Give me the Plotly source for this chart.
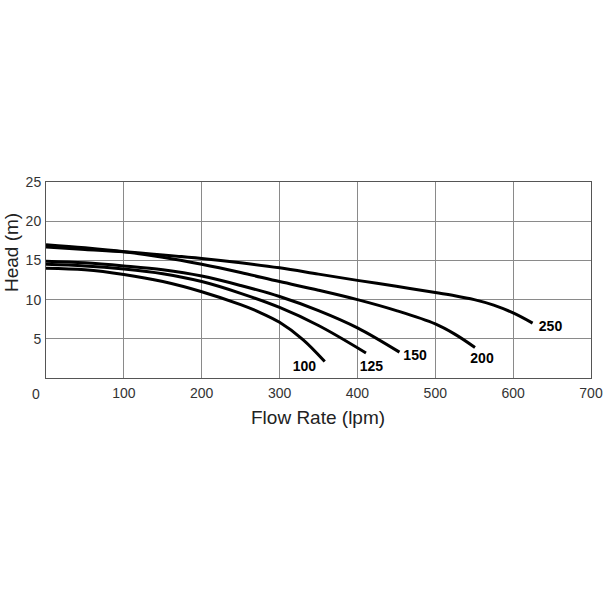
import plotly.graph_objects as go

# Pump curves: flow rate (lpm) vs head (m)
names = ["100", "125", "150", "200", "250"]
flow_100 = [0, 50, 100, 150, 200, 250, 275, 300, 330, 358]
head_100 = [14.0, 13.8, 13.2, 12.3, 11.0, 9.35, 8.35, 7.1, 4.9, 2.1]
flow_125 = [0, 50, 100, 150, 200, 250, 300, 350, 411]
head_125 = [14.5, 14.3, 13.9, 13.3, 12.3, 10.8, 9.0, 6.7, 3.2]
flow_150 = [0, 50, 100, 150, 200, 250, 300, 350, 400, 454]
head_150 = [14.9, 14.7, 14.3, 13.8, 13.0, 11.8, 10.4, 8.6, 6.4, 3.3]
flow_200 = [0, 50, 100, 150, 200, 250, 300, 350, 400, 450, 500, 525, 551]
head_200 = [17.0, 16.6, 16.1, 15.4, 14.5, 13.45, 12.3, 11.2, 10.0, 8.6, 6.9, 5.6, 3.9]
flow_250 = [0, 50, 100, 150, 200, 250, 300, 350, 400, 450, 500, 525, 550, 575, 600, 625]
head_250 = [16.7, 16.4, 16.1, 15.7, 15.25, 14.7, 14.05, 13.25, 12.45, 11.7, 10.9, 10.5, 10.0, 9.3, 8.3, 7.0]

label_x = [332, 418, 474, 560, 648]
label_y = [1.3, 1.4, 2.7, 2.3, 6.4]

x_ticks = [100, 200, 300, 400, 500, 600, 700]
y_ticks = [5, 10, 15, 20, 25]

series = [(flow_100, head_100), (flow_125, head_125), (flow_150, head_150),
          (flow_200, head_200), (flow_250, head_250)]

W, H = 603, 603
ML, MR, MT, MB = 46, 12, 182, 225
PW, PH = W - ML - MR, H - MT - MB

fig = go.Figure()
for (fx, hy), n in zip(series, names):
    fig.add_trace(go.Scatter(x=fx, y=hy, mode="lines", name=n,
                             line=dict(color="black", width=3, shape="spline", smoothing=1),
                             showlegend=False))

fig.add_trace(go.Scatter(x=label_x, y=label_y, mode="text", text=names,
                         textfont=dict(family="Liberation Sans, Arial", size=14,
                                       color="black", weight="bold"),
                         showlegend=False, hoverinfo="skip"))

axis_font = dict(family="Liberation Sans, Arial, Helvetica", size=14, color="#333333")
fig.update_xaxes(range=[0, 700], tickvals=x_ticks, ticks="", showgrid=True, gridcolor="#8a8a8a",
                 gridwidth=1, showline=True, linecolor="#555555", linewidth=1, mirror=True,
                 zeroline=False, tickfont=axis_font, automargin=False, ticklabelstandoff=2)
fig.update_yaxes(range=[0, 25], tickvals=y_ticks, ticks="", showgrid=True, gridcolor="#8a8a8a",
                 gridwidth=1, showline=True, linecolor="#555555", linewidth=1, mirror=True,
                 zeroline=False, tickfont=axis_font, ticklabelstandoff=1, automargin=False)

fig.add_annotation(x=0, y=0, xref="x", yref="y", text="0", showarrow=False,
                   xshift=-10, yshift=-16, font=axis_font)

title_font = dict(family="Liberation Sans, Arial", size=19, color="#222222")
fig.add_annotation(x=(318 - ML) / PW, y=(H - MB - 417) / PH, xref="paper", yref="paper",
                   text="Flow Rate (lpm)", showarrow=False, font=title_font,
                   xanchor="center", yanchor="middle")
fig.add_annotation(x=(11 - ML) / PW, y=(H - MB - 253) / PH, xref="paper", yref="paper",
                   text="Head (m)", showarrow=False, font=title_font, textangle=-90,
                   xanchor="center", yanchor="middle")

fig.update_layout(width=W, height=H, margin=dict(l=ML, r=MR, t=MT, b=MB),
                  plot_bgcolor="white", paper_bgcolor="white", hovermode=False)

fig.write_html("out.html", config={"displayModeBar": False, "staticPlot": True},
               post_script="document.body.style.margin='0';")
